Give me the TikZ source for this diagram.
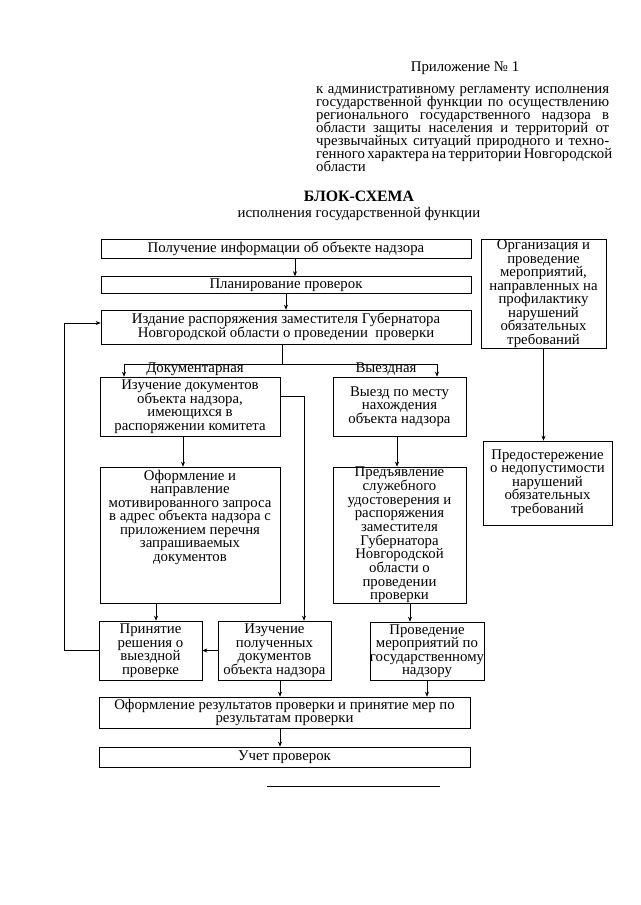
\documentclass[tikz,border=0pt]{standalone}
\usepackage{fontspec}
\setmainfont{Liberation Serif}
\usetikzlibrary{arrows.meta}
\newcommand{\fsz}{\fontsize{14.8}{13.5}\selectfont\lineskiplimit=-30pt\relax}
\newcommand{\hsz}{\fontsize{14.8}{13}\selectfont\lineskiplimit=-30pt\relax}
\newcommand{\wsz}{\fontsize{14.8}{13.7}\selectfont\lineskiplimit=-30pt\relax}
\newcommand{\jl}[1]{\makebox[293pt][s]{#1}}
\tikzset{
  box/.style={draw, line width=0.6pt, inner sep=0pt, align=center, font=\fsz},
  txt/.style={inner sep=0pt, align=center, font=\fsz},
  arr/.style={line width=0.6pt, -{Stealth[length=5pt,width=4pt]}},
  ln/.style={line width=0.6pt}
}
\begin{document}
\begin{tikzpicture}[x=1pt,y=-1pt]
\useasboundingbox[fill=white] (0,0) rectangle (640,905);
% header
\node[txt] (app) at (465,68) {Приложение № 1};
\node[txt, align=left, anchor=north west, font=\hsz] (hdr) at (316,86) {\jl{к административному регламенту исполнения}\\\jl{государственной функции по осуществлению}\\\jl{регионального государственного надзора в}\\\jl{области защиты населения и территорий от}\\\jl{чрезвычайных ситуаций природного и техно-}\\\jl{генного характера на территории Новгородской}\\области};
\node[txt, font=\fontsize{15.8}{15}\selectfont\bfseries] (title) at (359,196) {БЛОК-СХЕМА};
\node[txt] (subtitle) at (359,214) {исполнения государственной функции};
% main column
\node[box, minimum width=370, minimum height=19] (b1) at (286,248.5) {Получение информации об объекте надзора};
\node[box, minimum width=370, minimum height=17] (b2) at (286,285) {Планирование проверок};
\node[box, minimum width=370, minimum height=34] (b3) at (286,327) {Издание распоряжения заместителя Губернатора\\Новгородской области о проведении\ \ проверки};
\node[txt] (ldoc) at (195,369) {Документарная};
\node[txt] (lvyezd) at (386,369) {Выездная};
\node[box, minimum width=180, minimum height=59] (b4) at (190,406.5) {Изучение документов\\объекта надзора,\\имеющихся в\\распоряжении комитета};
\node[box, minimum width=133, minimum height=59] (b5) at (399.5,406.5) {Выезд по месту\\нахождения\\объекта надзора};
\node[box, minimum width=180, minimum height=136] (b6) at (190,535) {};
\node[txt, anchor=north] (b6t) at (190,470) {Оформление и\\направление\\мотивированного запроса\\в адрес объекта надзора с\\приложением перечня\\запрашиваемых\\документов};
\node[box, minimum width=133, minimum height=136, font=\wsz] (b7) at (399.5,535) {Предъявление\\служебного\\удостоверения и\\распоряжения\\заместителя\\Губернатора\\Новгородской\\области о\\проведении\\проверки};
\node[box, minimum width=103, minimum height=59] (b8) at (150.5,650.5) {Принятие\\решения о\\выездной\\проверке};
\node[box, minimum width=113, minimum height=59] (b9) at (274.5,650.5) {Изучение\\полученных\\документов\\объекта надзора};
\node[box, minimum width=112, minimum height=58] (b10) at (427,651) {Проведение\\мероприятий по\\государственному\\надзору};
\node[box, minimum width=371, minimum height=31] (b11) at (284.5,712.5) {Оформление результатов проверки и принятие мер по\\результатам проверки};
\node[box, minimum width=371, minimum height=20] (b12) at (284.5,757) {Учет проверок};
% right column
\node[box, minimum width=125, minimum height=109] (r1) at (543.5,293.5) {Организация и\\проведение\\мероприятий,\\направленных на\\профилактику\\нарушений\\обязательных\\требований};
\node[box, minimum width=129, minimum height=84] (r2) at (547.5,483) {Предостережение\\о недопустимости\\нарушений\\обязательных\\требований};
% connectors
\draw[arr] ([xshift=9pt]b1.south) -- ([xshift=9pt]b2.north);
\draw[arr] (b2.south) -- (b3.north);
\coordinate (split) at (282,364);
\draw[ln] ([xshift=-4pt]b3.south) -- (split);
\draw[arr] (split) -| ([xshift=-66pt]b4.north);
\draw[arr] (split) -| ([xshift=37.5pt]b5.north);
\draw[arr] ([xshift=-7pt]b4.south) -- ([xshift=-7pt]b6.north);
\draw[arr] ([xshift=-2.5pt]b5.south) -- ([xshift=-2.5pt]b7.north);
\draw[arr] ([yshift=10.5pt]b4.east) -| ([xshift=29.5pt]b9.north);
\coordinate (c1) at ([xshift=-34pt]b6.south);
\draw[arr] (c1) -- (c1 |- b8.north);
\coordinate (c2) at ([xshift=10.5pt]b7.south);
\draw[arr] (c2) -- (c2 |- b10.north);
\draw[arr] (b9.west) -- (b8.east);
\draw[arr] (b8.west) -- ++(-34,0) |- ([yshift=4pt]b3.west);
\coordinate (c3) at ([xshift=5.5pt]b9.south);
\draw[arr] (c3) -- (c3 |- b11.north);
\coordinate (c5) at (b10.south);
\draw[arr] (c5) -- (c5 |- b11.north);
\coordinate (c4) at ([xshift=-4.5pt]b11.south);
\draw[arr] (c4) -- (c4 |- b12.north);
\draw[arr] (r1.south) -- (r1.south |- r2.north);
% bottom rule
\coordinate (rl) at (267,786);
\coordinate (rr) at (440,786);
\draw[ln] (rl) -- (rr);
\end{tikzpicture}
\end{document}
